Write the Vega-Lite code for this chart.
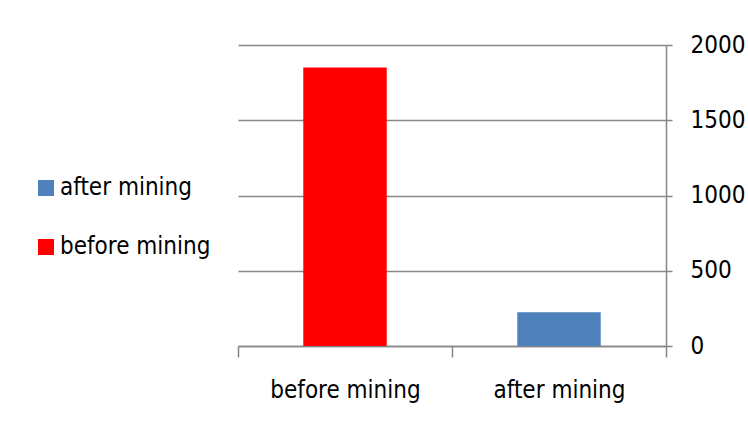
{
  "$schema": "https://vega.github.io/schema/vega-lite/v6.json",
  "autosize": "none",
  "width": 428,
  "height": 301,
  "padding": {"left": 238, "top": 45, "right": 82, "bottom": 82},
  "background": "white",
  "data": {"values": [
    {"stage": "before mining", "value": 1850},
    {"stage": "after mining", "value": 225}
  ]},
  "mark": {"type": "bar", "width": {"band": 0.39}},
  "encoding": {
    "x": {
      "field": "stage", "type": "nominal",
      "sort": ["before mining", "after mining"],
      "scale": {"paddingInner": 0, "paddingOuter": 0},
      "axis": {
        "title": null, "labelAngle": 0, "tickBand": "extent",
        "tickSize": 11, "tickColor": "#868686", "domainColor": "#868686",
        "labelFontSize": 24, "labelPadding": 21, "labelColor": "#000000",
        "labelFont": "Liberation Sans Narrow, DejaVu Sans Condensed, sans-serif"
      }
    },
    "y": {
      "field": "value", "type": "quantitative",
      "scale": {"domain": [0, 2000]},
      "axis": {
        "title": null, "orient": "right", "values": [0, 500, 1000, 1500, 2000],
        "format": "d",
        "tickSize": 6, "tickColor": "#868686", "domainColor": "#868686",
        "gridColor": "#868686", "labelFontSize": 24, "labelPadding": 18,
        "labelColor": "#000000",
        "labelFont": "Liberation Sans Narrow, DejaVu Sans Condensed, sans-serif"
      }
    },
    "color": {
      "field": "stage", "type": "nominal",
      "scale": {"domain": ["after mining", "before mining"], "range": ["#4F81BD", "#FF0000"]},
      "legend": {
        "title": null, "orient": "none", "legendX": -204, "legendY": 131,
        "symbolType": "square", "symbolSize": 256, "symbolStrokeWidth": 0,
        "labelFontSize": 24, "labelColor": "#000000", "rowPadding": 35, "labelOffset": 2,
        "labelLimit": 300,
        "labelFont": "Liberation Sans Narrow, DejaVu Sans Condensed, sans-serif"
      }
    }
  },
  "config": {"view": {"stroke": null}, "axis": {"grid": true, "domainWidth": 1.5, "gridWidth": 1.5, "tickWidth": 1.5}, "axisX": {"grid": false}}
}
